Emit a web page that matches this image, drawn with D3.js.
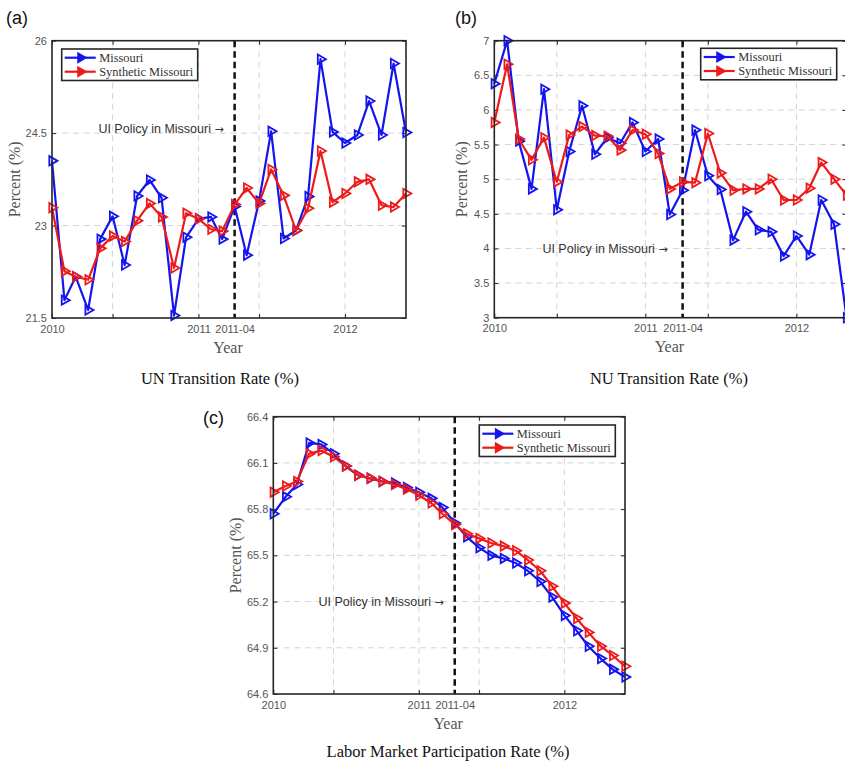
<!DOCTYPE html>
<html>
<head>
<meta charset="utf-8">
<script src="https://cdn.jsdelivr.net/npm/d3@7"></script>
<style>
body { margin: 0; background: #fff; }
svg { display: block; }
</style>
</head>
<body>
<div id="chart"></div>
<script>
// monthly observations, Jan 2010 - Jun 2012
var months = ["2010-01","2010-02","2010-03","2010-04","2010-05","2010-06","2010-07","2010-08","2010-09","2010-10","2010-11","2010-12",
              "2011-01","2011-02","2011-03","2011-04","2011-05","2011-06","2011-07","2011-08","2011-09","2011-10","2011-11","2011-12",
              "2012-01","2012-02","2012-03","2012-04","2012-05","2012-06"];
var tickMonths = ["2010-01","2010-06","2011-01","2011-04","2011-06","2012-01"];
var tickLabels = ["2010","","2011","2011-04","","2012"];
var policyMonth = "2011-04";
var seriesNames = ["Missouri", "Synthetic Missouri"];

var unMissouri  = [24.05,21.79,22.17,21.63,22.78,23.15,22.36,23.48,23.74,23.45,21.54,22.81,23.11,23.14,22.78,
                   23.31,22.52,23.40,24.53,22.79,22.92,23.47,25.70,24.52,24.34,24.47,25.02,24.47,25.63,24.51];
var unSynthetic = [23.29,22.26,22.17,22.12,22.63,22.83,22.74,23.08,23.36,23.14,22.31,23.20,23.11,22.94,22.91,
                   23.34,23.61,23.36,23.91,23.49,22.92,23.28,24.21,23.38,23.52,23.71,23.75,23.33,23.30,23.52];
var unTicks = [21.5, 23, 24.5, 26];

var nuMissouri  = [6.38,7.00,5.55,4.86,6.30,4.56,5.40,6.06,5.36,5.60,5.52,5.82,5.40,5.58,4.49,
                   4.84,5.71,5.05,4.85,4.12,4.53,4.27,4.24,3.89,4.18,3.91,4.70,4.35,3.00];
var nuSynthetic = [5.82,6.66,5.58,5.28,5.60,4.96,5.64,5.76,5.63,5.62,5.42,5.71,5.65,5.37,4.86,
                   4.96,4.95,5.66,5.09,4.84,4.86,4.86,5.00,4.70,4.70,4.87,5.24,5.00,4.77];
var nuTicks = [3, 3.5, 4, 4.5, 5, 5.5, 6, 6.5, 7];

var lfpMissouri  = [65.77,65.88,65.96,66.23,66.22,66.16,66.08,66.02,66.00,65.98,65.97,65.94,65.91,65.87,65.81,
                    65.71,65.62,65.55,65.50,65.48,65.45,65.40,65.33,65.23,65.11,65.01,64.91,64.83,64.76,64.71];
var lfpSynthetic = [65.91,65.95,65.98,66.16,66.18,66.14,66.08,66.02,66.00,65.98,65.96,65.93,65.89,65.84,65.77,
                    65.70,65.64,65.61,65.58,65.56,65.53,65.47,65.40,65.30,65.19,65.09,65.00,64.91,64.85,64.78];
var lfpTicks = [64.6, 64.9, 65.2, 65.5, 65.8, 66.1, 66.4];

var colors = ["#1414ee", "#ee1a1a"];
var parseMonth = d3.timeParse("%Y-%m");
var sans = "'Liberation Sans', Arial, Helvetica, sans-serif";
var serif = "'Liberation Serif', 'Times New Roman', serif";

var svg = d3.select("#chart")
            .append("svg")
            .attr("width", 845)
            .attr("height", 765);

var panels = [
  { tag: "(a)", tagX: 6, tagY: 24, left: 52, right: 406, top: 40.7, bottom: 318,
    n: 30, missouri: unMissouri, synthetic: unSynthetic, ticks: unTicks,
    legendX: 61.7, legendY: 49, policyY: 24.57, policyGap: 11, ylabelOff: 38,
    caption: "UN Transition Rate (%)", captionX: 220, captionY: 384 },
  { tag: "(b)", tagX: 455, tagY: 24, left: 494.3, right: 846.5, top: 40.7, bottom: 317.7,
    n: 29, missouri: nuMissouri, synthetic: nuSynthetic, ticks: nuTicks,
    legendX: 700.7, legendY: 48.3, policyY: 4.0, policyGap: 15, ylabelOff: 33,
    caption: "NU Transition Rate (%)", captionX: 669, captionY: 384 },
  { tag: "(c)", tagX: 203, tagY: 424, left: 273.3, right: 625, top: 416.7, bottom: 694,
    n: 30, missouri: lfpMissouri, synthetic: lfpSynthetic, ticks: lfpTicks,
    legendX: 479.3, legendY: 425, policyY: 65.2, policyGap: 11, ylabelOff: 38,
    caption: "Labor Market Participation Rate (%)", captionX: 448, captionY: 757 }
];

var triangle = d3.symbol().type(d3.symbolTriangle).size(38);

function drawPanel(p) {
  var dates = months.slice(0, p.n).map(parseMonth);
  var x = d3.scaleTime()
            .domain([dates[0], dates[dates.length - 1]])
            .range([p.left, p.right]);
  var y = d3.scaleLinear()
            .domain([p.ticks[0], p.ticks[p.ticks.length - 1]])
            .range([p.bottom, p.top]);
  var tickDates = tickMonths.map(parseMonth);
  var g = svg.append("g");

  // grid
  g.selectAll(".hgrid").data(p.ticks.slice(1, -1)).enter()
   .append("line")
   .attr("x1", p.left).attr("x2", p.right)
   .attr("y1", d => y(d)).attr("y2", d => y(d))
   .attr("stroke", "#d4d4d4").attr("stroke-width", 1).attr("stroke-dasharray", "6,4.5");
  g.selectAll(".vgrid").data(tickDates.slice(1)).enter()
   .append("line")
   .attr("x1", d => x(d)).attr("x2", d => x(d))
   .attr("y1", p.top).attr("y2", p.bottom)
   .attr("stroke", "#d4d4d4").attr("stroke-width", 1).attr("stroke-dasharray", "6,4.5");

  // axes (ticks inward on all four sides)
  var xb = g.append("g").attr("transform", `translate(0,${p.bottom})`)
            .call(d3.axisBottom(x).tickValues(tickDates).tickFormat((d, i) => tickLabels[i])
                    .tickSizeInner(-4).tickSizeOuter(0).tickPadding(7));
  var xt = g.append("g").attr("transform", `translate(0,${p.top})`)
            .call(d3.axisTop(x).tickValues(tickDates).tickFormat("").tickSizeInner(-4).tickSizeOuter(0));
  var yl = g.append("g").attr("transform", `translate(${p.left},0)`)
            .call(d3.axisLeft(y).tickValues(p.ticks).tickFormat(d3.format("")).tickSizeInner(-4).tickSizeOuter(0).tickPadding(5));
  var yr = g.append("g").attr("transform", `translate(${p.right},0)`)
            .call(d3.axisRight(y).tickValues(p.ticks).tickFormat("").tickSizeInner(-4).tickSizeOuter(0));
  [xb, xt, yl, yr].forEach(function(a) {
    a.select(".domain").remove();
    a.selectAll(".tick line").attr("stroke", "#262626");
    a.selectAll("text").attr("fill", "#555").style("font-family", sans).style("font-size", "11px");
  });

  // policy line + note
  var px = x(parseMonth(policyMonth));
  g.append("line")
   .attr("x1", px).attr("x2", px).attr("y1", p.top).attr("y2", p.bottom)
   .attr("stroke", "#111").attr("stroke-width", 2.5).attr("stroke-dasharray", "6.5,4");
  var note = g.append("text")
   .attr("x", px - p.policyGap).attr("y", y(p.policyY))
   .attr("dy", "0.35em")
   .attr("text-anchor", "end")
   .style("font-family", sans).style("font-size", "12.5px")
   .attr("fill", "#333");
  note.append("tspan").text("UI Policy in Missouri ");
  note.append("tspan").style("font-family", "'DejaVu Sans', sans-serif").style("font-size", "11px").text("\u2192");

  // series
  var line = d3.line().x((d, i) => x(dates[i])).y(d => y(d));
  [p.missouri, p.synthetic].forEach(function(vals, k) {
    g.append("path")
     .datum(vals)
     .attr("d", line)
     .attr("fill", "none")
     .attr("stroke", colors[k])
     .attr("stroke-width", 2.2)
     .attr("stroke-linejoin", "round");
    g.selectAll(".m" + k).data(vals).enter()
     .append("path")
     .attr("d", triangle)
     .attr("transform", (d, i) => `translate(${x(dates[i])},${y(d)}) rotate(90)`)
     .attr("fill", "none")
     .attr("stroke", colors[k])
     .attr("stroke-width", 1.8);
  });

  // box
  g.append("rect")
   .attr("x", p.left).attr("y", p.top)
   .attr("width", p.right - p.left).attr("height", p.bottom - p.top)
   .attr("fill", "none").attr("stroke", "#262626").attr("stroke-width", 1.6);

  // legend
  var lg = g.append("g").attr("transform", `translate(${p.legendX},${p.legendY})`);
  lg.append("rect").attr("width", 136).attr("height", 31.5)
    .attr("fill", "#fff").attr("stroke", "#262626").attr("stroke-width", 1.6);
  seriesNames.forEach(function(name, k) {
    var ry = 8.7 + k * 14;
    lg.append("line").attr("x1", 3).attr("x2", 34).attr("y1", ry).attr("y2", ry)
      .attr("stroke", colors[k]).attr("stroke-width", 2.2);
    lg.append("path").attr("d", triangle)
      .attr("transform", `translate(19,${ry}) rotate(90)`)
      .attr("fill", colors[k]).attr("stroke", colors[k]).attr("stroke-width", 1.5);
    lg.append("text").attr("x", 37.5).attr("y", ry).attr("dy", "0.33em")
      .style("font-family", serif).style("font-size", "12.4px").attr("fill", "#333")
      .text(name);
  });

  // labels
  g.append("text")
   .attr("x", (p.left + p.right) / 2 - 1).attr("y", p.bottom + 29)
   .attr("dy", "0.35em").attr("text-anchor", "middle")
   .style("font-family", serif).style("font-size", "16px").attr("fill", "#555")
   .text("Year");
  g.append("text")
   .attr("transform", `translate(${p.left - p.ylabelOff},${(p.top + p.bottom) / 2}) rotate(-90)`)
   .attr("dy", "0.35em").attr("text-anchor", "middle")
   .style("font-family", serif).style("font-size", "16px").attr("fill", "#555")
   .text("Percent (%)");
  g.append("text")
   .attr("x", p.captionX).attr("y", p.captionY)
   .attr("text-anchor", "middle")
   .style("font-family", serif).style("font-size", "16.5px").attr("fill", "#111")
   .text(p.caption);
  g.append("text")
   .attr("x", p.tagX).attr("y", p.tagY)
   .style("font-family", sans).style("font-size", "18px").attr("fill", "#111")
   .text(p.tag);
}

panels.forEach(drawPanel);
</script>
</body>
</html>
